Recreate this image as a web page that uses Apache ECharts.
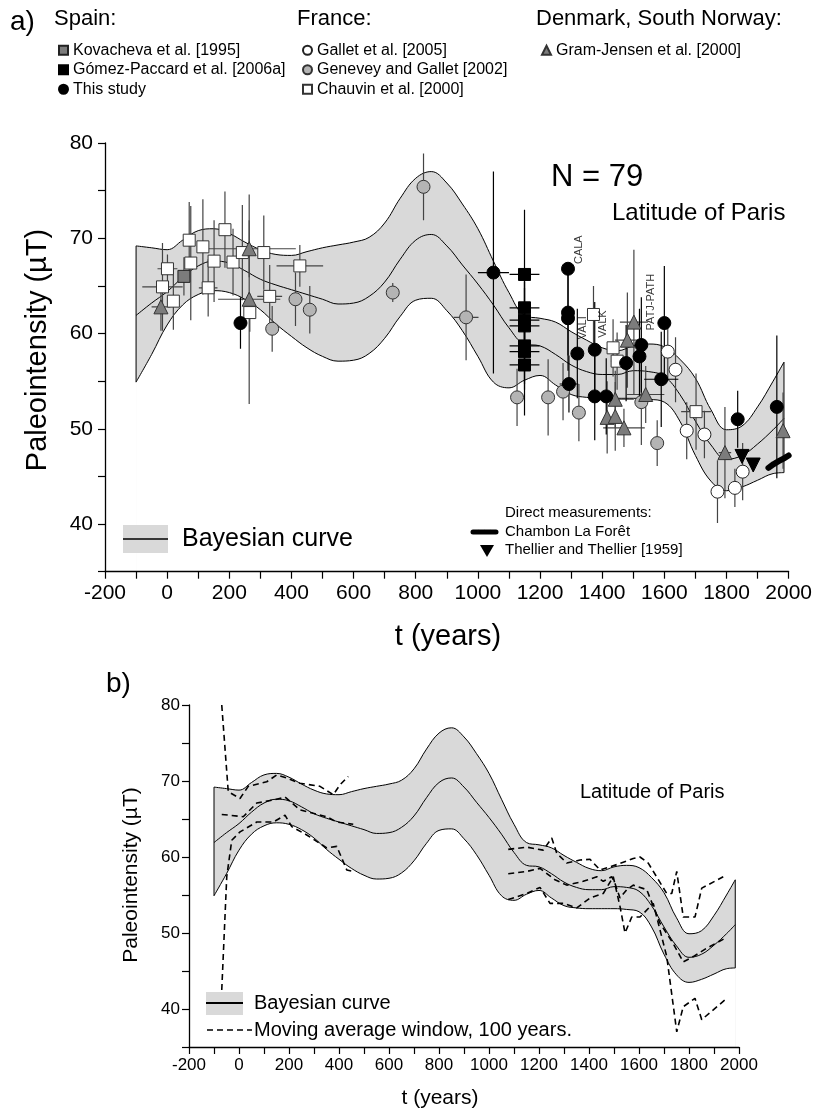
<!DOCTYPE html>
<html><head><meta charset="utf-8">
<script src="https://cdn.jsdelivr.net/npm/echarts@6/dist/echarts.min.js"></script>
<style>html,body{margin:0;padding:0;background:#fff}#c{width:815px;height:1116px}</style>
</head><body><div id="c"></div>
<script>
// ---------- Bayesian curve (shared by both panels) ----------
const curveT = [-100,-50,0,50,100,150,200,250,300,350,400,450,500,550,600,650,700,750,800,850,900,950,1000,1050,1100,1150,1200,1250,1300,1350,1400,1450,1500,1550,1600,1650,1700,1750,1800,1850,1900,1950,1985];
const curveUpper = [69.2,69.0,68.8,69.8,70.8,71.0,70.5,69.6,68.8,68.3,68.2,68.6,69.0,69.3,69.6,70.1,71.6,74.2,76.3,77.0,75.8,73.6,71.0,67.6,64.3,61.9,61.6,61.2,60.2,59.3,58.5,58.2,58.7,58.9,58.6,57.3,55.3,52.0,49.9,50.3,52.3,55.0,57.0];
const curveMid = [61.9,63.2,64.4,65.9,67.1,67.6,67.4,66.6,65.7,65.1,64.6,64.1,63.6,63.1,63.2,63.9,65.4,67.8,69.8,70.4,69.2,67.2,65.2,63.0,60.6,58.9,58.7,57.8,56.7,56.0,55.7,55.7,56.1,56.0,55.5,53.6,50.8,48.3,46.8,47.2,48.4,49.9,51.1];
const curveLower = [54.9,57.8,60.9,63.0,64.1,64.5,64.3,63.6,62.5,61.0,59.7,58.5,57.6,57.1,57.2,57.9,59.5,61.8,63.5,63.7,62.4,60.3,57.6,54.9,54.3,55.1,55.6,54.6,53.6,53.3,53.2,53.2,53.2,53.1,52.8,50.8,47.2,44.5,43.5,43.9,44.6,45.3,45.4];

// ---------- Data points, panel a: [t, intensity, age half-error, intensity half-error] ----------
const kovacheva = [[54,66.0,12,2]];
const gomezPaccard = [[1150,66.2,48,6.8],[1150,62.7,48,4],[1150,61.4,48,4],[1150,60.8,48,4],[1150,58.7,48,4],[1150,58.1,48,4],[1150,56.7,48,5.3]];
const thisStudy = [[236,61.1,0,2.7],[1050,66.4,50,10.6],[1290,66.8,0,0.5],[1290,62.2,0,4.5],[1290,61.6,0,5.5],[1293,54.7,30,3],[1320,57.9,0,4.7],[1376,58.3,0,5],[1376,53.4,0,4.6],[1413,53.4,0,4],[1477,56.9,0,4],[1520,57.6,0,5],[1526,58.8,0,5],[1590,55.2,55,5],[1600,61.1,10,6],[1836,51.0,0,3],[1962,52.3,0,7.5]];
const gallet = [[1611,58.1,15,3],[1636,56.2,10,3.4],[1672,49.8,10,3],[1729,49.4,10,2.5],[1771,43.4,10,3.3],[1827,43.8,10,2],[1852,45.5,10,3]];
const genevey = [[338,60.5,10,2.4],[413,63.6,10,2.8],[459,62.5,10,2.5],[726,64.3,10,1],[825,75.4,10,3.5],[962,61.7,40,4.5],[1126,53.3,10,3],[1226,53.3,10,4],[1274,53.9,10,3],[1325,51.7,10,3],[1526,52.8,10,4.5],[1577,48.5,10,2.4]];
const chauvin = [[-15,64.9,65,4.6],[1,66.8,32,1.5],[20,63.4,15,3],[71,69.8,12,4],[76,67.4,12,6],[115,69.1,15,5],[132,64.8,30,3],[151,67.6,15,4.3],[186,70.9,15,4],[212,67.5,8,3.5],[242,68.5,15,5],[266,62.2,15,2],[311,68.5,15,3.9],[330,63.9,40,3.3],[427,67.1,75,2.2],[1372,62.0,15,3],[1435,58.5,20,3],[1448,57.1,20,3],[1702,51.8,48,4]];
const gramJensen = [[-20,62.8,30,2.5],[264,68.9,150,3],[264,63.6,100,11],[1416,51.2,10,3.8],[1442,53.1,60,3],[1442,51.3,10,3.6],[1470,50.1,67,2],[1481,59.3,40,5],[1502,61.2,45,7.6],[1540,53.6,60,3],[1795,47.5,20,4.8],[1982,49.8,10,4]];
const thellier = [[1850,47.1],[1886,46.2]];
const chambon = [[1935,45.9],[1952,46.3],[1968,46.6],[1985,46.9],[2000,47.2]];

// ---------- Moving averages, panel b ----------
const maUpperA = [[-69,80],[-43,68.6],[4,67.7],[37,69.3],[111,69.9],[151,70.8],[191,70.4],[244,69.7],[324,69.3],[377,68.2],[404,69.5],[437,70.6]];
const maMidA = [[-69,65.6],[17,65.3],[71,67.1],[137,67.5],[184,67.9],[244,66.2],[351,65.3],[391,64.6],[457,64.3]];
const maLowerA = [[-69,42.5],[-49,57.4],[-29,62.2],[4,63.3],[71,64.6],[137,64.6],[184,65.5],[211,64.0],[271,62.9],[351,61.2],[391,61.4],[431,58.3],[457,58.1]];
const maUpperB = [[1077,61.0],[1151,61.3],[1217,60.9],[1251,62.5],[1271,60.5],[1311,59.2],[1364,59.6],[1404,59.7],[1444,58.3],[1511,59.0],[1577,59.8],[1604,60.0],[1637,59.2],[1711,55.2],[1731,55.2],[1751,58.1],[1777,52.1],[1824,52.1],[1851,55.9],[1937,57.4]];
const maMidB = [[1077,57.8],[1151,58.1],[1204,58.5],[1264,57.0],[1311,56.3],[1377,56.8],[1431,57.4],[1457,56.8],[1491,57.4],[1504,56.5],[1524,54.6],[1551,55.7],[1577,56.3],[1631,55.7],[1684,51.3],[1737,48.6],[1777,46.2],[1817,46.9],[1871,48.0],[1944,49.3]];
const maLowerB = [[1077,54.4],[1151,55.2],[1204,56.0],[1244,53.9],[1297,53.9],[1351,53.3],[1404,54.6],[1457,55.2],[1497,57.4],[1524,53.5],[1544,50.0],[1571,52.1],[1604,52.1],[1657,53.9],[1711,46.9],[1751,37.0],[1777,40.3],[1824,41.4],[1851,38.6],[1951,41.4]];

// ---------- Tick labels ----------
const xTickLabels = [-200,0,200,400,600,800,1000,1200,1400,1600,1800,2000];
const yTickLabels = [40,50,60,70,80];

const FONT = "'Liberation Sans', Arial, Helvetica, sans-serif";
const BAND = '#d9d9d9';
const chart = echarts.init(document.getElementById('c'), null, {renderer:'canvas'});

const pairs = (ts, vs) => ts.map((t,i)=>[t, vs[i]]);
const nLast = curveT.length - 1;

function bandSeries(ax, lw) {
  const base = {type:'line', xAxisIndex:ax, yAxisIndex:ax, symbol:'none', silent:true, smooth:0.4,
    lineStyle:{color:'#000', width:lw}};
  return [
    Object.assign({}, base, {name:'upper'+ax, data:pairs(curveT, curveUpper), z:1,
      areaStyle:{color:BAND, opacity:1, origin:'start'}}),
    Object.assign({}, base, {name:'lower'+ax, data:pairs(curveT, curveLower), z:2,
      areaStyle:{color:'#fff', opacity:1, origin:'start'}}),
    Object.assign({}, base, {name:'mid'+ax, data:pairs(curveT, curveMid), z:3}),
    Object.assign({}, base, {name:'edgeL'+ax, smooth:false, data:[[curveT[0],curveLower[0]],[curveT[0],curveUpper[0]]], z:3}),
    Object.assign({}, base, {name:'edgeR'+ax, smooth:false, data:[[curveT[nLast],curveLower[nLast]],[curveT[nLast],curveUpper[nLast]]], z:3})
  ];
}

function errSeries(name, data, color) {
  return {
    type:'custom', name:name+' err', xAxisIndex:0, yAxisIndex:0, data:data, silent:true, z:4, clip:true,
    encode:{x:0, y:1},
    renderItem:function(params, api){
      const t = api.value(0), v = api.value(1), dt = api.value(2), dv = api.value(3);
      const c = api.coord([t, v]);
      const ch = [];
      if (dv > 0) {
        const a = api.coord([t, v + dv]), b = api.coord([t, v - dv]);
        ch.push({type:'line', shape:{x1:c[0], y1:a[1], x2:c[0], y2:b[1]}, style:{stroke:color, lineWidth:1.2}});
      }
      if (dt > 0) {
        const l = api.coord([t - dt, v]), r = api.coord([t + dt, v]);
        ch.push({type:'line', shape:{x1:l[0], y1:c[1], x2:r[0], y2:c[1]}, style:{stroke:color, lineWidth:1.2}});
      }
      return {type:'group', children:ch};
    }
  };
}

function pts(name, data, symbol, size, fill, border, extra) {
  return Object.assign({
    type:'scatter', name:name, xAxisIndex:0, yAxisIndex:0, z:6,
    data:data.map(d=>[d[0], d[1]]), symbol:symbol, symbolSize:size,
    itemStyle:{color:fill, borderColor:border, borderWidth:1, opacity:1}
  }, extra || {});
}

function maSeries(data, nm) {
  return {type:'line', name:nm, xAxisIndex:1, yAxisIndex:1, data:data, symbol:'none', smooth:false, silent:true,
    lineStyle:{color:'#000', width:1.6, type:[6,4]}, z:5};
}

const axisCommon = (fs, margin) => ({
  z:20,
  axisLine:{show:true, onZero:false, lineStyle:{color:'#000', width:1.3}},
  axisTick:{show:true, inside:false, length:7, lineStyle:{color:'#000', width:1.2}},
  splitLine:{show:false},
  axisLabel:{color:'#000', fontSize:fs, fontFamily:FONT, margin:margin}
});

function xAx(idx, fs, margin){
  const a = axisCommon(fs, margin);
  a.type='value'; a.gridIndex=idx; a.min=-200; a.max=2000; a.interval=100;
  a.axisLabel.formatter = v => xTickLabels.indexOf(v) >= 0 ? String(v) : '';
  a.axisLabel.showMinLabel = true; a.axisLabel.showMaxLabel = true;
  return a;
}
function yAx(idx, fs, margin){
  const a = axisCommon(fs, margin);
  a.type='value'; a.gridIndex=idx; a.min=35; a.max=80; a.interval=5;
  a.axisLabel.formatter = v => yTickLabels.indexOf(v) >= 0 ? String(v) : '';
  return a;
}

const series = [].concat(
  bandSeries(0, 1), bandSeries(1, 1),
  [
    errSeries('Chauvin', chauvin, '#444'),
    errSeries('Genevey', genevey, '#444'),
    errSeries('Gallet', gallet, '#444'),
    errSeries('Gram', gramJensen, '#444'),
    errSeries('Kovacheva', kovacheva, '#444'),
    errSeries('GP', gomezPaccard, '#000'),
    errSeries('This', thisStudy, '#000'),
    pts('Chauvin et al. [2000]', chauvin, 'rect', 12, '#fff', '#333'),
    pts('Genevey and Gallet [2002]', genevey, 'circle', 13, '#b4b4b4', '#333'),
    pts('Gallet et al. [2005]', gallet, 'circle', 13, '#fff', '#222'),
    pts('Gram-Jensen et al. [2000]', gramJensen, 'triangle', 14, '#7c7c7c', '#333'),
    pts('Kovacheva et al. [1995]', kovacheva, 'rect', 12, '#7c7c7c', '#222'),
    pts('Gómez-Paccard et al. [2006a]', gomezPaccard, 'rect', 12, '#000', '#000'),
    pts('This study', thisStudy, 'circle', 13, '#000', '#000'),
    pts('Thellier and Thellier [1959]', thellier, 'triangle', 14, '#000', '#000', {symbolRotate:180}),
    {type:'line', name:'Chambon La Forêt', xAxisIndex:0, yAxisIndex:0, data:chambon, symbol:'none', silent:true,
     lineStyle:{color:'#000', width:6, cap:'round'}, z:6},
    {type:'scatter', name:'labels', xAxisIndex:0, yAxisIndex:0, symbolSize:1, itemStyle:{color:'rgba(0,0,0,0)'}, z:7, silent:true,
     data:[{name:'CALA', value:[1326,68.8]},{name:'VALI', value:[1339,60.6]},{name:'VALK', value:[1402,61.0]},{name:'PATJ-PATH', value:[1556,63.3]}],
     label:{show:true, formatter:'{b}', rotate:90, position:'inside', fontSize:11, fontFamily:FONT, color:'#000'}},
    maSeries(maUpperA,'mua'), maSeries(maMidA,'mma'), maSeries(maLowerA,'mla'),
    maSeries(maUpperB,'mub'), maSeries(maMidB,'mmb'), maSeries(maLowerB,'mlb')
  ]
);

const legendBase = {orient:'vertical', itemWidth:9, itemHeight:9, itemGap:3, selectedMode:false,
  textStyle:{fontSize:16, fontFamily:FONT, color:'#000', lineHeight:16.5}};

const T = (text, x, y, fs, extra) => Object.assign({type:'text', x:x, y:y, z:100,
  style:{text:text, fontSize:fs, fontFamily:FONT, fill:'#000', textVerticalAlign:'middle', textAlign:'left'}}, extra||{});

const option = {
  animation:false,
  backgroundColor:'#fff',
  grid:[
    {left:105, right:25, top:143, height:428.7, containLabel:false},
    {left:189, right:76, top:705, height:342, containLabel:false}
  ],
  xAxis:[xAx(0, 21, 11), xAx(1, 17, 10)],
  yAxis:[yAx(0, 21, 12), yAx(1, 17, 9)],
  legend:[
    Object.assign({}, legendBase, {left:53, top:37, data:['Kovacheva et al. [1995]','Gómez-Paccard et al. [2006a]','This study']}),
    Object.assign({}, legendBase, {left:297, top:37, data:['Gallet et al. [2005]','Genevey and Gallet [2002]','Chauvin et al. [2000]']}),
    Object.assign({}, legendBase, {left:536, top:37, data:['Gram-Jensen et al. [2000]']})
  ],
  series: series,
  graphic:[
    T('a)', 10, 22, 28),
    T('Spain:', 54, 19, 22),
    T('France:', 297, 19, 22),
    T('Denmark, South Norway:', 536, 19, 22),
    T('N = 79', 551, 177, 31),
    T('Latitude of Paris', 612, 213, 24),
    T('Paleointensity (µT)', 38, 350, 29, {rotation:Math.PI/2, style:{text:'Paleointensity (µT)', fontSize:29, fontFamily:FONT, fill:'#000', textAlign:'center', textVerticalAlign:'middle'}}),
    T('t (years)', 448, 637, 29, {style:{text:'t (years)', fontSize:29, fontFamily:FONT, fill:'#000', textAlign:'center', textVerticalAlign:'middle'}}),
    // legend panel a (bottom)
    {type:'rect', z:99, shape:{x:123, y:525, width:45, height:28}, style:{fill:BAND}},
    {type:'line', z:100, shape:{x1:123, y1:539, x2:168, y2:539}, style:{stroke:'#000', lineWidth:1.3}},
    T('Bayesian curve', 182, 539, 25),
    T('Direct measurements:', 505, 513, 15),
    {type:'line', z:100, shape:{x1:473, y1:532, x2:497, y2:532}, style:{stroke:'#000', lineWidth:5, lineCap:'round', lineDash:[5,1]}},
    T('Chambon La Forêt', 505, 532, 15),
    {type:'polygon', z:100, shape:{points:[[480,545],[494,545],[487,557]]}, style:{fill:'#000'}},
    T('Thellier and Thellier [1959]', 505, 550, 15),
    // panel b texts
    T('b)', 106, 684, 28),
    T('Latitude of Paris', 580, 792, 20),
    T('Paleointensity (µT)', 131, 875, 21, {rotation:Math.PI/2, style:{text:'Paleointensity (µT)', fontSize:21, fontFamily:FONT, fill:'#000', textAlign:'center', textVerticalAlign:'middle'}}),
    T('t (years)', 440, 1098, 21, {style:{text:'t (years)', fontSize:21, fontFamily:FONT, fill:'#000', textAlign:'center', textVerticalAlign:'middle'}}),
    {type:'rect', z:99, shape:{x:206, y:992, width:37, height:23}, style:{fill:BAND}},
    {type:'line', z:100, shape:{x1:206, y1:1003, x2:243, y2:1003}, style:{stroke:'#000', lineWidth:2}},
    T('Bayesian curve', 254, 1003, 20),
    {type:'line', z:100, shape:{x1:207, y1:1030, x2:252, y2:1030}, style:{stroke:'#000', lineWidth:1.6, lineDash:[6,4]}},
    T('Moving average window, 100 years.', 254, 1030, 20)
  ]
};
chart.setOption(option);
</script></body></html>
